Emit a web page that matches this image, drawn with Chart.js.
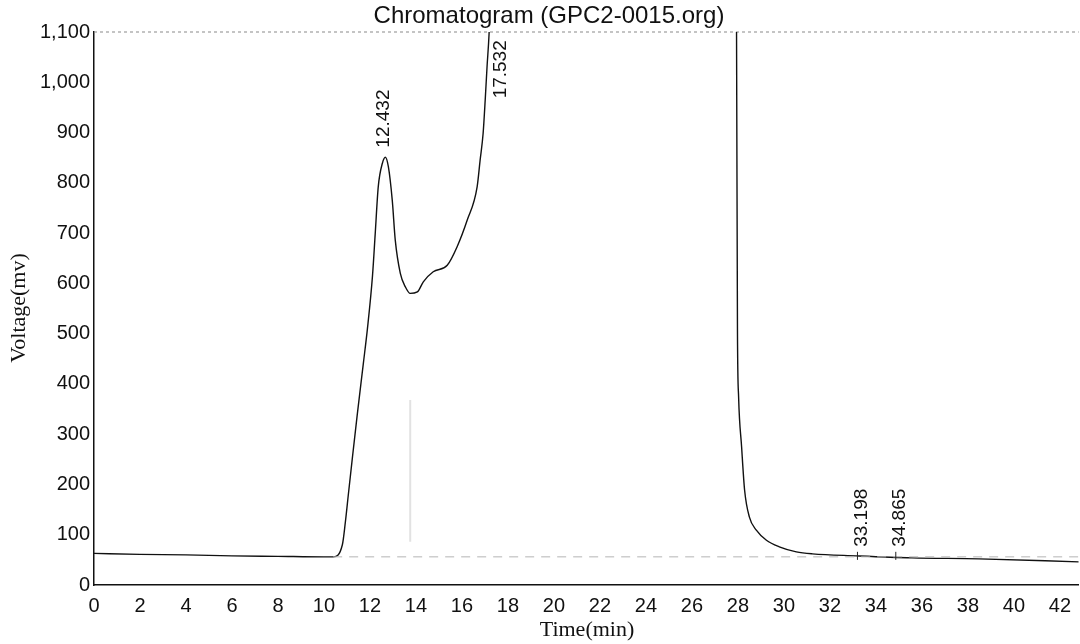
<!DOCTYPE html>
<html>
<head>
<meta charset="utf-8">
<title>Chromatogram (GPC2-0015.org)</title>
<script src="https://cdn.jsdelivr.net/npm/chart.js@4.4.1/dist/chart.umd.min.js"></script>
<style>
    html, body { margin: 0; padding: 0; background: #fff; }
    #chart { display: block; }
</style>
</head>
<body>
<canvas id="chart" width="1080" height="644"></canvas>
<script>
// retention time (min) and detector signal (mV)
const times = [0, 2, 4, 6, 8, 10, 10.41, 10.8, 10.93, 11.06, 11.24, 11.45, 11.71, 11.89,
    12.11, 12.23, 12.36, 12.54, 12.67, 12.8, 12.97, 13.1, 13.32, 13.54, 13.75, 14.06,
    14.32, 14.75, 15.36, 15.79, 16.23, 16.66, 16.79, 16.92, 17.01, 17.09, 17.18, 17.3,
    17.6, 27.85, 27.94, 27.98, 28.03, 28.16, 28.29, 28.5, 28.8, 29.24, 29.8, 30.54,
    31.24, 33.15, 35.57, 38.48, 42.82];
const voltages = [63, 61, 60, 58, 57, 56, 56, 80, 125, 180, 255, 340, 440, 510,
    615, 700, 792, 839, 851, 832, 765, 686, 620, 593, 580, 583,
    603, 623, 636, 673, 726, 792, 845, 898, 964, 1030, 1097, 1250,
    1500, 1500, 1100, 507, 374, 275, 189, 135, 109, 89, 76, 66,
    62, 58, 54, 52, 46];

// integration baseline and the valley drop line
const baselineTimes = [10.4, 42.82];
const baselineValues = [56, 56];
const dropTimes = [13.75, 13.75];
const dropValues = [86, 368];

// peak labels
const peakTimes = [12.432, 17.532, 33.198, 34.865];
const peakLabelLevels = [870, 968, 76, 76];
const peakMarked = [false, false, true, true];

const xTicks = [0, 2, 4, 6, 8, 10, 12, 14, 16, 18, 20, 22, 24, 26, 28, 30, 32, 34, 36, 38, 40, 42];
const yTicks = [0, 100, 200, 300, 400, 500, 600, 700, 800, 900, 1000, 1100];

const SANS = "'Liberation Sans', Arial, sans-serif";
const SERIF = "'Liberation Serif', 'Times New Roman', serif";

const toPoints = (xs, ys) => xs.map((x, i) => ({ x: x, y: ys[i] }));

const decorPlugin = {
    id: 'decor',
    beforeDatasetsDraw(chart) {
        const { ctx, chartArea, scales } = chart;
        // dotted full-scale line
        const yTop = scales.y.getPixelForValue(yTicks[yTicks.length - 1]);
        ctx.save();
        ctx.strokeStyle = '#8a8a8a';
        ctx.lineWidth = 1;
        ctx.setLineDash([3, 3]);
        ctx.beginPath();
        ctx.moveTo(chartArea.left, yTop);
        ctx.lineTo(chartArea.right, yTop);
        ctx.stroke();
        ctx.restore();
    },
    afterDraw(chart) {
        const { ctx, scales } = chart;
        ctx.save();
        ctx.fillStyle = '#111';

        // title
        ctx.font = '24px ' + SANS;
        ctx.textAlign = 'center';
        ctx.textBaseline = 'middle';
        ctx.fillText('Chromatogram (GPC2-0015.org)', 549, 16);

        // axis titles
        ctx.font = '22px ' + SERIF;
        ctx.fillText('Time(min)', 587, 630);
        ctx.save();
        ctx.translate(19, 308);
        ctx.rotate(-Math.PI / 2);
        ctx.fillText('Voltage(mv)', 0, 0);
        ctx.restore();

        // peak retention times
        ctx.font = '19px ' + SANS;
        peakTimes.forEach((t, i) => {
            const px = scales.x.getPixelForValue(t) + 4;
            const py = scales.y.getPixelForValue(peakLabelLevels[i]);
            ctx.save();
            ctx.translate(px, py);
            ctx.rotate(-Math.PI / 2);
            ctx.textAlign = 'left';
            ctx.textBaseline = 'middle';
            ctx.fillText(t.toFixed(3), 0, 0);
            ctx.restore();
            if (peakMarked[i]) {
                const mx = scales.x.getPixelForValue(t);
                ctx.strokeStyle = '#222';
                ctx.lineWidth = 1;
                ctx.beginPath();
                ctx.moveTo(mx, scales.y.getPixelForValue(66));
                ctx.lineTo(mx, scales.y.getPixelForValue(50));
                ctx.stroke();
            }
        });
        ctx.restore();
    }
};

new Chart(document.getElementById('chart'), {
    type: 'line',
    data: {
        datasets: [{
            label: 'Baseline',
            data: toPoints(baselineTimes, baselineValues),
            borderColor: '#b5b5b5',
            borderWidth: 1,
            borderDash: [9, 7],
            pointRadius: 0
        }, {
            label: 'Drop line',
            data: toPoints(dropTimes, dropValues),
            borderColor: '#e2e2e2',
            borderWidth: 2,
            pointRadius: 0
        }, {
            label: 'Signal',
            data: toPoints(times, voltages),
            borderColor: '#111',
            borderWidth: 1.4,
            pointRadius: 0,
            cubicInterpolationMode: 'monotone'
        }]
    },
    options: {
        responsive: false,
        animation: false,
        layout: {
            padding: { top: 32, right: 0, bottom: 0, left: 0 }
        },
        plugins: {
            legend: { display: false },
            tooltip: { enabled: false },
            title: { display: false }
        },
        scales: {
            x: {
                type: 'linear',
                min: 0,
                max: 42.82,
                afterBuildTicks: (scale) => {
                    scale.ticks = xTicks.map(v => ({ value: v }));
                },
                afterFit: (scale) => { scale.height = 59; },
                grid: { display: false, drawTicks: false },
                border: { display: true, color: '#111', width: 1.5 },
                ticks: {
                    color: '#111',
                    padding: 9,
                    maxRotation: 0,
                    autoSkip: false,
                    font: { family: SANS, size: 20 }
                }
            },
            y: {
                min: 0,
                max: 1100,
                afterBuildTicks: (scale) => {
                    scale.ticks = yTicks.map(v => ({ value: v }));
                },
                afterFit: (scale) => { scale.width = 94; },
                grid: { display: false, drawTicks: false },
                border: { display: true, color: '#111', width: 1.5 },
                ticks: {
                    color: '#111',
                    padding: 4,
                    autoSkip: false,
                    font: { family: SANS, size: 20 },
                    callback: (v) => Number(v).toLocaleString('en-US')
                }
            }
        }
    },
    plugins: [decorPlugin]
});
</script>
</body>
</html>
